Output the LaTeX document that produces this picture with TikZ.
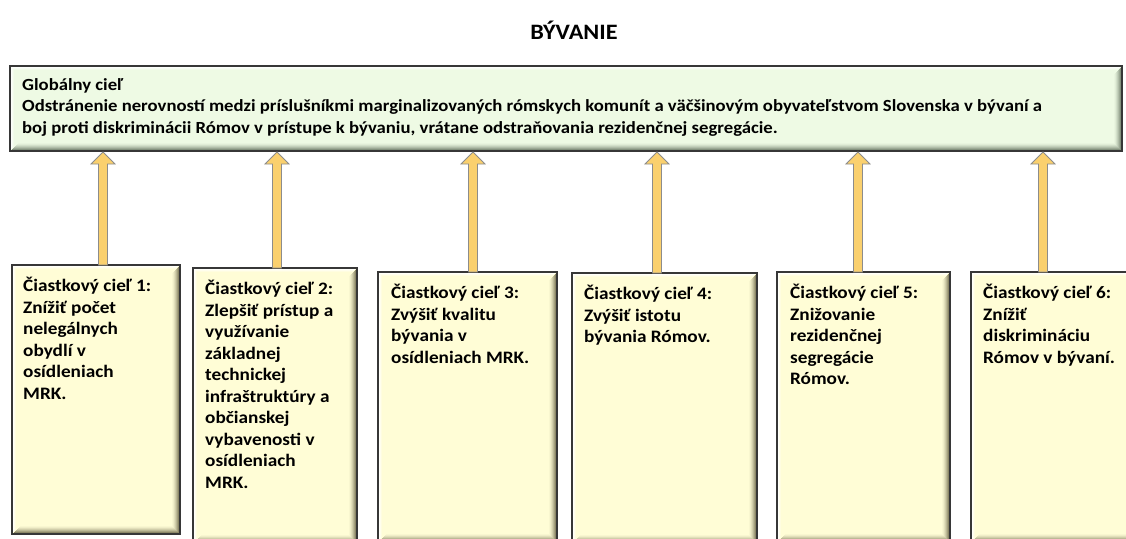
\documentclass[tikz,border=0pt]{standalone}
\usepackage{fontspec}
\setmainfont{Carlito}[FakeStretch=1.1]
\usetikzlibrary{calc}
\definecolor{boxfill}{RGB}{255,253,214}
\definecolor{gfill}{RGB}{238,250,228}
\definecolor{arrfill}{RGB}{250,208,110}
\definecolor{arredge}{RGB}{140,140,140}
\definecolor{edge}{RGB}{55,55,55}
\definecolor{bevelY}{RGB}{110,105,75}
\definecolor{bevelG}{RGB}{105,120,100}
\newcommand\goalarrow[2]{%
  \filldraw[arrowst] ($(#1.north -| #2)+(-4.5,0)$) -- ($(g.south -| #2)+(-4.5,13)$)
   -- ($(g.south -| #2)+(-12,13)$) -- ($(g.south -| #2)+(0,1)$)
   -- ($(g.south -| #2)+(12,13)$) -- ($(g.south -| #2)+(4.5,13)$)
   -- ($(#1.north -| #2)+(4.5,0)$) -- cycle;}
% bevel: node, fill colour, dark colour
\newcommand\bevel[3]{%
  \foreach \i/\c in {1.6/80,2.6/62,3.6/46,4.6/32,5.6/20,6.6/10,7.6/4}{
    \draw[#3!\c!#2, line width=1.05pt]
      ([xshift=-\i pt,yshift=-\i pt]#1.north east)
      -- ([xshift=-\i pt,yshift=\i pt]#1.south east)
      -- ([xshift=\i pt,yshift=\i pt]#1.south west);
  }
  \foreach \i/\c in {1.6/85,2.6/55,3.6/25}{
    \draw[white!\c!#2, line width=1.05pt]
      ([xshift=\i pt,yshift=\i pt]#1.south west)
      -- ([xshift=\i pt,yshift=-\i pt]#1.north west)
      -- ([xshift=-\i pt,yshift=-\i pt]#1.north east);
  }
  \draw[edge, line width=1.2pt] (#1.north west) rectangle (#1.south east);
}
\begin{document}
\begin{tikzpicture}[x=1pt,y=-1pt,
  subbox/.style={draw=edge, line width=1.2pt, inner sep=0pt, outer sep=0pt, anchor=north west, fill=boxfill},
  txt/.style={font=\bfseries\fontsize{17.5}{21.5}\selectfont, align=left, inner sep=0pt, anchor=north west, text=black},
  arrowst/.style={fill=arrfill, draw=arredge, line width=0.8pt, line join=miter},
]
\useasboundingbox (0,0) rectangle (1126,538);
\fill[white] (0,0) rectangle (1126,538);

\node[font=\bfseries\fontsize{22}{26}\selectfont] (title) at (574,30) {BÝVANIE};

\node[draw=edge, line width=1.2pt, fill=gfill, inner sep=0pt, outer sep=0pt, anchor=north west,
  minimum width=1112pt, minimum height=85pt] (g) at (10,66) {};
\bevel{g}{gfill}{bevelG}
\node[txt, font=\bfseries\fontsize{17}{21.5}\selectfont] (gt) at ($(g.north west)+(12,12)$)
  {Globálny cieľ\\
   Odstránenie nerovností medzi príslušníkmi marginalizovaných rómskych komunít a väčšinovým obyvateľstvom Slovenska v bývaní a\\
   boj proti diskriminácii Rómov v prístupe k bývaniu, vrátane odstraňovania rezidenčnej segregácie.};

\node[subbox, minimum width=168pt, minimum height=269pt] (b1) at (12,265) {};
\node[subbox, minimum width=164pt, minimum height=275pt] (b2) at (193,268) {};
\node[subbox, minimum width=179pt, minimum height=270pt] (b3) at (378,272) {};
\node[subbox, minimum width=185pt, minimum height=270pt] (b4) at (572,273) {};
\node[subbox, minimum width=173pt, minimum height=270pt] (b5) at (777,272) {};
\node[subbox, minimum width=170pt, minimum height=270pt] (b6) at (971,272) {};
\bevel{b1}{boxfill}{bevelY}
\bevel{b2}{boxfill}{bevelY}
\bevel{b3}{boxfill}{bevelY}
\bevel{b4}{boxfill}{bevelY}
\bevel{b5}{boxfill}{bevelY}
\bevel{b6}{boxfill}{bevelY}

\coordinate (x1) at (103,0);
\coordinate (x2) at (277,0);
\coordinate (x3) at (473,0);
\coordinate (x4) at (657,0);
\coordinate (x5) at (858,0);
\coordinate (x6) at (1043,0);
\goalarrow{b1}{x1}
\goalarrow{b2}{x2}
\goalarrow{b3}{x3}
\goalarrow{b4}{x4}
\goalarrow{b5}{x5}
\goalarrow{b6}{x6}

\node[txt] (t1) at ($(b1.north west)+(11,12)$) {Čiastkový cieľ 1:\\Znížiť počet\\nelegálnych\\obydlí v\\osídleniach\\MRK.};
\node[txt] (t2) at ($(b2.north west)+(12,12)$) {Čiastkový cieľ 2:\\Zlepšiť prístup a\\využívanie\\základnej\\technickej\\infraštruktúry a\\občianskej\\vybavenosti v\\osídleniach\\MRK.};
\node[txt] (t3) at ($(b3.north west)+(13,12)$) {Čiastkový cieľ 3:\\Zvýšiť kvalitu\\bývania v\\osídleniach MRK.};
\node[txt] (t4) at ($(b4.north west)+(12,12)$) {Čiastkový cieľ 4:\\Zvýšiť istotu\\bývania Rómov.};
\node[txt] (t5) at ($(b5.north west)+(13,12)$) {Čiastkový cieľ 5:\\Znižovanie\\rezidenčnej\\segregácie\\Rómov.};
\node[txt] (t6) at ($(b6.north west)+(12,12)$) {Čiastkový cieľ 6:\\Znížiť\\diskrimináciu\\Rómov v bývaní.};
\end{tikzpicture}
\end{document}
